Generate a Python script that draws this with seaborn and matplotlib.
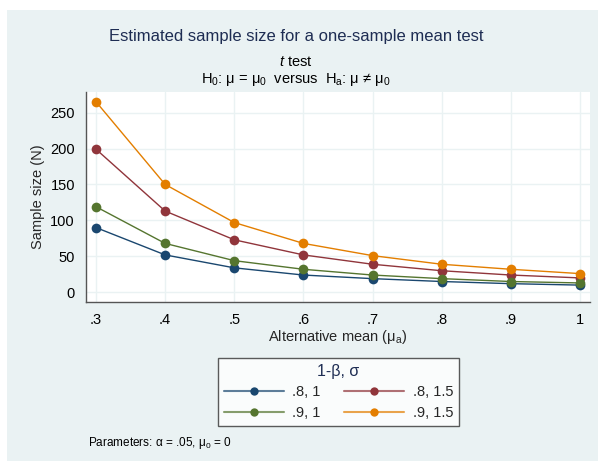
import matplotlib
matplotlib.use("Agg")
import matplotlib.pyplot as plt
from matplotlib.lines import Line2D
from matplotlib.patches import Rectangle
import seaborn as sns
import pandas as pd

# ---- data ----
alt_mean = [0.3, 0.4, 0.5, 0.6, 0.7, 0.8, 0.9, 1.0]
n_p8_s1 = [90, 52, 34, 24, 19, 15, 12, 10]
n_p8_s15 = [199, 113, 73, 52, 39, 30, 24, 20]
n_p9_s1 = [119, 68, 44, 32, 24, 19, 15, 13]
n_p9_s15 = [265, 150, 97, 68, 51, 39, 32, 26]
series_labels = [".8, 1", ".8, 1.5", ".9, 1", ".9, 1.5"]
x_ticks = [0.3, 0.4, 0.5, 0.6, 0.7, 0.8, 0.9, 1.0]
x_ticklabels = [".3", ".4", ".5", ".6", ".7", ".8", ".9", "1"]
y_ticks = [0, 50, 100, 150, 200, 250]

colors = ["#1a476f", "#90353b", "#55752f", "#e37e00"]
bg = "#eaf2f3"

rows = []
for lab, vals in zip(series_labels, [n_p8_s1, n_p8_s15, n_p9_s1, n_p9_s15]):
    for x, v in zip(alt_mean, vals):
        rows.append({"mu": x, "N": v, "grp": lab})
df = pd.DataFrame(rows)

sns.set_style("white")
plt.rcParams["font.family"] = ["Liberation Sans", "DejaVu Sans"]
plt.rcParams["mathtext.fontset"] = "custom"
plt.rcParams["mathtext.rm"] = "Liberation Sans"
plt.rcParams["mathtext.it"] = "Liberation Sans:italic"

fig = plt.figure(figsize=(5.98, 4.66), dpi=100)
fig.patch.set_facecolor("white")
fig.patches.append(Rectangle((7 / 598, 1 - 461 / 466), 591 / 598, 451 / 466,
                             transform=fig.transFigure, facecolor=bg,
                             edgecolor="none", zorder=-10))

ax = fig.add_axes([86 / 598, 1 - 302 / 466, 504 / 598, 210 / 466])
ax.set_facecolor("white")

sns.lineplot(data=df, x="mu", y="N", hue="grp", hue_order=series_labels,
             palette=colors, marker="o", markersize=7, markeredgewidth=0,
             linewidth=1.0, ax=ax, legend=False, zorder=3)

ax.set_xlim(0.2855, 1.0145)
ax.set_ylim(-13.5, 278.6)
ax.set_xticks(x_ticks)
ax.set_xticklabels(x_ticklabels)
ax.set_yticks(y_ticks)
ax.grid(True, color=bg, linewidth=1.0)
ax.set_axisbelow(True)
for s in ["top", "right"]:
    ax.spines[s].set_visible(False)
for s in ["left", "bottom"]:
    ax.spines[s].set_color("#555555")
    ax.spines[s].set_linewidth(1.0)
ax.tick_params(axis="both", direction="out", length=5, width=0.8,
               color="#555555", labelsize=10.5, labelcolor="black", pad=3)
ax.set_xlabel("Alternative mean (\u03bc$_{\\mathrm{a}}$)", fontsize=10.5, labelpad=1)
ax.set_ylabel("Sample size (N)", fontsize=10.5, labelpad=4)

# titles
fig.text(296 / 598, 1 - 37 / 466, "Estimated sample size for a one-sample mean test",
         ha="center", va="center", fontsize=12.0, color="#1e2d53")
fig.text(296 / 598, 1 - 62 / 466, "$\\mathit{t}$ test", ha="center", va="center",
         fontsize=10.5, color="black")
fig.text(296 / 598, 1 - 79 / 466,
         "H$_{0}$: \u03bc = \u03bc$_{0}$  versus  H$_{\\mathrm{a}}$: \u03bc \u2260 \u03bc$_{0}$",
         ha="center", va="center", fontsize=10.5, color="black")

# legend: faded line + opaque marker
handles = [(Line2D([0], [0], color=c, lw=1.5, alpha=0.7),
            Line2D([0], [0], color=c, lw=0, marker="o", markersize=6,
                   markerfacecolor=c, markeredgewidth=0)) for c in colors]
leg = fig.legend([handles[i] for i in [0, 2, 1, 3]],
                 [series_labels[i] for i in [0, 2, 1, 3]],
                 ncol=2, loc="center", bbox_to_anchor=(338.5 / 598, 1 - 392 / 466),
                 frameon=True, fancybox=False, edgecolor="#333333", facecolor="white",
                 fontsize=10.5, title="1-\u03b2, \u03c3", title_fontsize=11.5,
                 handlelength=4.1, handletextpad=0.6, columnspacing=1.6,
                 labelspacing=0.45, borderpad=0.4)
leg.get_title().set_color("#1e2d53")
leg.get_frame().set_linewidth(1.0)

fig.text(88 / 598, 1 - 443 / 466, "Parameters: \u03b1 = .05, \u03bc$_{0}$ = 0",
         ha="left", va="center", fontsize=8.5, color="black")

fig.savefig("out.png", dpi=100)
